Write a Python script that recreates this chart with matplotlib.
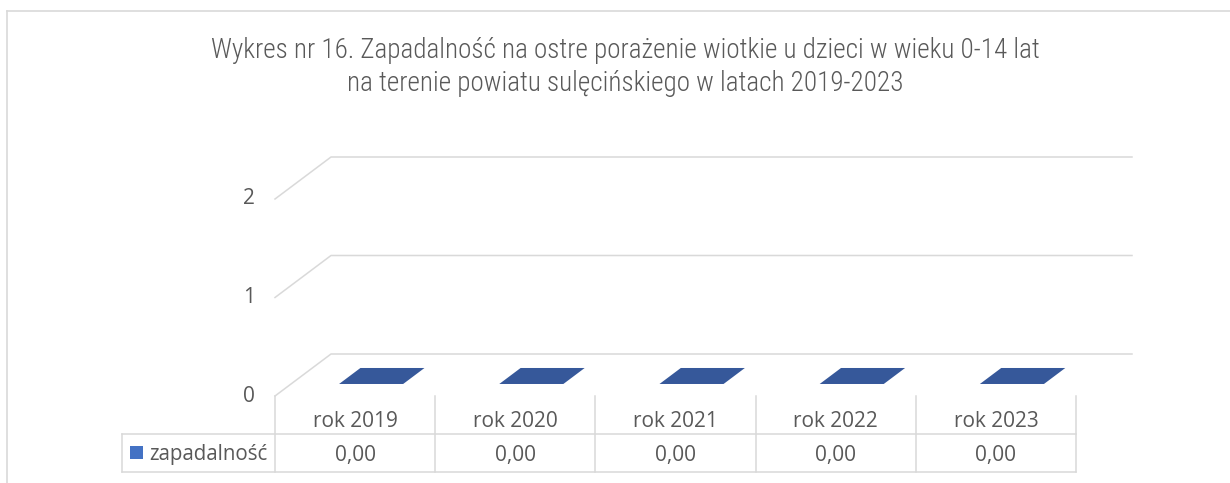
import numpy as np
import matplotlib
matplotlib.use("Agg")
import matplotlib.pyplot as plt
from matplotlib import font_manager as fm
from matplotlib.transforms import IdentityTransform
from matplotlib.lines import Line2D
from matplotlib.patches import Polygon, Rectangle

# ---- data ----
title_lines = ["Wykres nr 16. Zapadalność na ostre porażenie wiotkie u dzieci w wieku 0-14 lat",
               "na terenie powiatu sulęcińskiego w latach 2019-2023"]
categories = ["rok 2019", "rok 2020", "rok 2021", "rok 2022", "rok 2023"]
series_name = "zapadalność"
values = [0.0, 0.0, 0.0, 0.0, 0.0]
y_ticks = [0, 1, 2]

# ---- fonts ----
names = {f.name for f in fm.fontManager.ttflist}
title_font = "Roboto"
for cand in ["Roboto Condensed", "Liberation Sans Narrow", "Open Sans Condensed", "Noto Sans Condensed"]:
    if cand in names:
        title_font = cand
        break
print("title font:", title_font)
body_font = "Open Sans"

W, H = 1230, 483
fig = plt.figure(figsize=(W / 100, H / 100), dpi=100)
fig.patch.set_facecolor("white")

GRID = "#D9D9D9"
TXT = "#595959"

# front plane axes: x category index, y value
left_px, right_px = 275, 1076
zero_px, two_px = 396, 199
ax = fig.add_axes([left_px / W, (H - zero_px) / H, (right_px - left_px) / W, (zero_px - two_px) / H])
ax.set_xlim(-0.5, len(categories) - 0.5)
ax.set_ylim(0, 2)
ax.axis("off")

DX, DY = 56, 42  # depth offset in pixels
ident = IdentityTransform()


def disp(x, y, z=0.0):
    p = ax.transData.transform((x, y))
    return np.array([p[0] + z * DX, p[1] + z * DY])


xmin, xmax = -0.5, len(categories) - 0.5

# gridlines (side wall diagonal + back wall)
for v in y_ticks:
    pts = np.array([disp(xmin, v, 0), disp(xmin, v, 1), disp(xmax, v, 1)])
    fig.add_artist(Line2D(pts[:, 0], pts[:, 1], color=GRID, lw=1.1, transform=ident))
    p = disp(xmin, v, 0)
    fig.text(p[0] - 20, p[1], str(v), ha="right", va="center", fontsize=15,
             family=body_font, color=TXT, transform=ident)

# bars
bw = 0.2
z1, z2 = 0.286, 0.667
for i, v in enumerate(values):
    x0, x1 = i - bw, i + bw
    if v > 0:
        front = [disp(x0, 0, z1), disp(x1, 0, z1), disp(x1, v, z1), disp(x0, v, z1)]
        fig.add_artist(Polygon(front, closed=True, fc="#4472C4", ec="none", transform=ident))
        side = [disp(x1, 0, z1), disp(x1, 0, z2), disp(x1, v, z2), disp(x1, v, z1)]
        fig.add_artist(Polygon(side, closed=True, fc="#2F5597", ec="none", transform=ident))
    top = [disp(x0, v, z1), disp(x1, v, z1), disp(x1, v, z2), disp(x0, v, z2)]
    fig.add_artist(Polygon(top, closed=True, fc="#36589A", ec="none", transform=ident))

# data table
ROW = 38
LEG_W = 153
z0 = disp(xmin, 0)
ybase = z0[1]
for k in range(len(categories) + 1):
    xb = disp(xmin + k, 0)[0]
    fig.add_artist(Line2D([xb, xb], [ybase, ybase - 2 * ROW], color=GRID, lw=1.1, transform=ident))
xl = z0[0] - LEG_W
xr = disp(xmax, 0)[0]
for r in (1, 2):
    fig.add_artist(Line2D([xl, xr], [ybase - r * ROW, ybase - r * ROW], color=GRID, lw=1.1, transform=ident))
fig.add_artist(Line2D([xl, xl], [ybase - ROW, ybase - 2 * ROW], color=GRID, lw=1.1, transform=ident))

for i, (c, v) in enumerate(zip(categories, values)):
    cx = disp(i, 0)[0]
    fig.text(cx, ybase - 31, c, ha="center", va="baseline", fontsize=15,
             family=body_font, color=TXT, transform=ident)
    fig.text(cx, ybase - 65, f"{v:.2f}".replace(".", ","), ha="center", va="baseline", fontsize=15,
             family=body_font, color=TXT, transform=ident)

# legend key in table
fig.add_artist(Rectangle((xl + 8, ybase - 63), 13, 13, fc="#4472C4", ec="none", transform=ident))
fig.text(xl + 27, ybase - 64, series_name, ha="left", va="baseline", fontsize=14.8,
         family=body_font, color=TXT, transform=ident)

# title
fig.text(625 / W, 1 - 58 / H, title_lines[0], ha="center", va="baseline", fontsize=19.5,
         family=title_font, fontweight="light", color=TXT)
fig.text(625 / W, 1 - 91 / H, title_lines[1], ha="center", va="baseline", fontsize=19.5,
         family=title_font, fontweight="light", color=TXT)

# chart border
fig.add_artist(Line2D([7, W], [H - 10.5, H - 10.5], color=GRID, lw=1.2, transform=ident))
fig.add_artist(Line2D([7, 7], [H - 10.5, 0], color=GRID, lw=1.2, transform=ident))

fig.savefig("out.png", dpi=100, facecolor="white")
